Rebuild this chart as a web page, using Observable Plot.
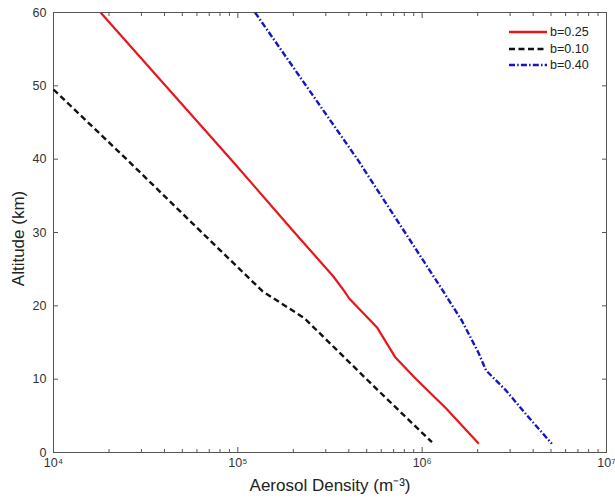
<!DOCTYPE html>
<html><head><meta charset="utf-8">
<script src="https://cdn.jsdelivr.net/npm/d3@7"></script>
<script src="https://cdn.jsdelivr.net/npm/@observablehq/plot@0.6"></script>
<style>
body{margin:0;background:#fff;font-family:"Liberation Sans",Arial,sans-serif}
#wrap{position:relative;width:615px;height:503px;overflow:hidden}
#legend{position:absolute;left:508px;top:24px;font-size:12.5px;color:#222;line-height:16.5px}
#legend div{display:flex;align-items:center;height:16.5px}
#legend svg{margin-right:2px}
</style></head><body><div id="wrap"></div>
<script>
// Series
const seriesNames = ["b=0.25", "b=0.10", "b=0.40"];
const seriesColors = ["#e8161c", "#111111", "#1515c8"];
const seriesDash = [null, "6,3.5", "6,2.2,1.5,2.2"];

const altB025 = [60, 40, 30, 24, 22, 21, 17, 13, 10, 6, 1.2];
const denB025 = [1.80e4, 9.16e4, 2.03e5, 3.30e5, 3.78e5, 4.02e5, 5.71e5, 7.14e5, 9.29e5, 1.35e6, 2.03e6];

const altB010 = [49.5, 40, 30, 22, 18.3, 9.1, 1.4];
const denB010 = [1.0e4, 2.49e4, 6.38e4, 1.36e5, 2.30e5, 5.43e5, 1.13e6];

const altB040 = [60, 40, 22, 20.7, 18.0, 13.5, 11.2, 8.5, 4.8, 1.2];
const denB040 = [1.24e5, 4.45e5, 1.30e6, 1.40e6, 1.64e6, 2.03e6, 2.22e6, 2.84e6, 3.78e6, 5.05e6];

const xMajorTicks = [1e4, 1e5, 1e6, 1e7];
const xMajorLabels = ["10⁴", "10⁵", "10⁶", "10⁷"];
const xMinorTicks = [2,3,4,5,6,7,8,9].flatMap(m => [m*1e4, m*1e5, m*1e6]);
const yTicks = [0, 10, 20, 30, 40, 50, 60];
const xLabel = "Aerosol Density (m⁻³)";
const yLabel = "Altitude (km)";

const alts = [altB025, altB010, altB040];
const dens = [denB025, denB010, denB040];
const rows = seriesNames.flatMap((s, i) => alts[i].map((a, j) => ({series: s, alt: a, den: dens[i][j]})));

const axisColor = "#555";
const lines = seriesNames.map((s, i) => Plot.line(rows.filter(r => r.series === s), {
  x: "den", y: "alt", stroke: seriesColors[i], strokeWidth: i === 0 ? 2.2 : 2.4,
  strokeDasharray: seriesDash[i], strokeLinecap: "butt", strokeLinejoin: "round", curve: "linear"
}));

const blank = () => "";
const chart = Plot.plot({
  width: 615, height: 503,
  marginLeft: 53, marginRight: 9, marginTop: 12, marginBottom: 51,
  x: {type: "log", domain: [1e4, 1e7], label: null},
  y: {domain: [0, 60], label: null},
  style: {fontFamily: "'Liberation Sans', Arial, sans-serif", fontSize: "12px", color: "#333", background: "#fff"},
  marks: [
    Plot.frame({stroke: axisColor, strokeWidth: 1}),
    // tick labels
    Plot.axisX(xMajorTicks, {anchor: "bottom", tickSize: 0, tickPadding: 6, tickFormat: d => xMajorLabels[xMajorTicks.indexOf(d)], fontSize: 12.5, label: null}),
    Plot.axisY(yTicks, {anchor: "left", tickSize: 0, tickPadding: 7, fontSize: 12.5, label: null}),
    // inward ticks
    Plot.axisX(xMajorTicks, {anchor: "bottom", tickSize: -5, tickFormat: blank, label: null, stroke: axisColor}),
    Plot.axisX(xMinorTicks, {anchor: "bottom", tickSize: -3, tickFormat: blank, label: null, stroke: axisColor}),
    Plot.axisX(xMajorTicks, {anchor: "top", tickSize: -5, tickFormat: blank, label: null, stroke: axisColor}),
    Plot.axisX(xMinorTicks, {anchor: "top", tickSize: -3, tickFormat: blank, label: null, stroke: axisColor}),
    Plot.axisY(yTicks, {anchor: "left", tickSize: -5, tickFormat: blank, label: null, stroke: axisColor}),
    Plot.axisY(yTicks, {anchor: "right", tickSize: -5, tickFormat: blank, label: null, stroke: axisColor}),
    // axis titles
    Plot.text([xLabel], {text: d => d, frameAnchor: "bottom", textAnchor: "middle", dy: 38, fontSize: 17, fill: "#222"}),
    Plot.text([yLabel], {text: d => d, frameAnchor: "left", textAnchor: "middle", lineAnchor: "middle", dx: -35, dy: 6, rotate: -90, fontSize: 17, fill: "#222"}),
    ...lines
  ]
});
const wrap = document.getElementById("wrap");
wrap.appendChild(chart);

// legend
const leg = document.createElement("div");
leg.id = "legend";
seriesNames.forEach((s, i) => {
  const row = document.createElement("div");
  const dash = seriesDash[i] ? `stroke-dasharray="${seriesDash[i]}"` : "";
  row.innerHTML = `<svg width="40" height="6"><line x1="1" y1="3" x2="39" y2="3" stroke="${seriesColors[i]}" stroke-width="2.4" ${dash}/></svg><span>${s}</span>`;
  leg.appendChild(row);
});
wrap.appendChild(leg);
</script></body></html>
